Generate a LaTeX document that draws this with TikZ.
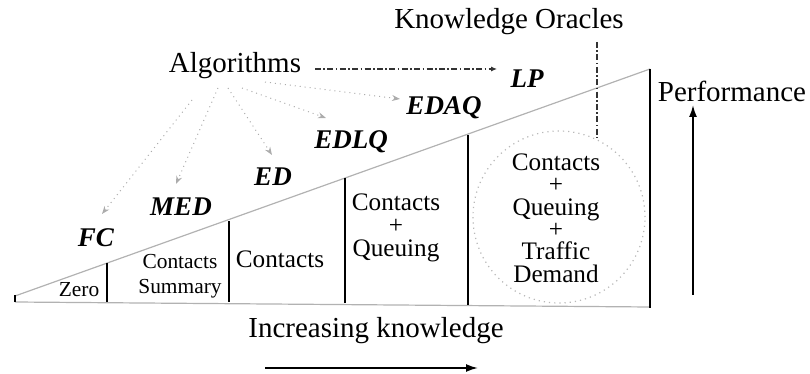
\documentclass[tikz,border=0pt]{standalone}
\usepackage{fontspec}
\setmainfont{Liberation Serif}
\usetikzlibrary{arrows.meta}
\begin{document}
\begin{tikzpicture}[x=0.5pt,y=-0.5pt,
  big/.style={font=\fontsize{14.5}{17}\selectfont, inner sep=0pt},
  alg/.style={font=\fontsize{13.5}{16}\selectfont\bfseries\itshape, inner sep=0pt},
  boxtxt/.style={font=\fontsize{12.6}{11.5}\selectfont, inner sep=0pt, align=center},
  smalltxt/.style={font=\fontsize{10.7}{12.5}\selectfont, inner sep=0pt, align=center},
  wall/.style={line width=0.8pt, black},
  slope/.style={gray!60, line width=0.6pt},
  pointer/.style={gray!65, dotted, line width=0.5pt, -{Stealth[length=4pt,width=3pt]}},
  dashdot/.style={line width=0.6pt, black!80, dash pattern=on 3pt off 1.2pt on 0.8pt off 1.2pt},
  bigarrow/.style={line width=0.9pt, -{Latex[length=6pt,width=4pt]}}
]
\useasboundingbox (0,0) rectangle (810,374);

% staircase
\draw[slope] (15,296) -- (650,69);
\draw[slope] (15,302) -- (650,307);
\draw[wall] (15,295) -- (15,302);
\draw[wall] (107,263) -- (107,302);
\draw[wall] (229,221) -- (229,302);
\draw[wall] (345,178) -- (345,303);
\draw[wall] (468,135) -- (468,305);
\draw[wall] (650,69) -- (650,308);

% box contents
\node[smalltxt] (zero) at (79,290) {Zero};
\node[smalltxt] (cs) at (180,276) {Contacts\\Summary};
\node[boxtxt] (c) at (280,259) {Contacts};
\node[boxtxt] (cq) at (396,228) {Contacts\\+\\Queuing};
\node[circle, draw=gray!55, dotted, line width=0.6pt, minimum size=86pt, inner sep=0pt] (oracle) at (559,217) {};
\node[boxtxt, font=\fontsize{12.6}{11.2}\selectfont] (cqt) at (556,218) {Contacts\\+\\Queuing\\+\\Traffic\\Demand};

% algorithm labels
\node[alg] (FC) at (96,238) {FC};
\node[alg] (MED) at (181,207) {MED};
\node[alg] (ED) at (273,177) {ED};
\node[alg] (EDLQ) at (351,142) {EDLQ};
\node[alg] (EDAQ) at (444,108) {EDAQ};
\node[alg] (LP) at (527,79) {LP};

\node[big] (alg) at (235,66) {Algorithms};
\node[big] (ko) at (509,22) {Knowledge Oracles};
\node[big] (perf) at (732,91) {Performance};
\node[big] (inc) at (376,331) {Increasing knowledge};

% pointers from Algorithms to the algorithm labels
\coordinate (s1) at (192,100); \coordinate (e1) at (102,214);
\coordinate (s2) at (218,88);  \coordinate (e2) at (176,184);
\coordinate (s3) at (228,88);  \coordinate (e3) at (272,155);
\coordinate (s4) at (242,88);  \coordinate (e4) at (326,118);
\coordinate (s5) at (265,82);  \coordinate (e5) at (400,99);
\draw[pointer] (s1) -- (e1);
\draw[pointer] (s2) -- (e2);
\draw[pointer] (s3) -- (e3);
\draw[pointer] (s4) -- (e4);
\draw[pointer] (s5) -- (e5);

% dash-dot connectors
\coordinate (h1) at (315,69);
\draw[dashdot, shorten >=6.5pt, -{Latex[length=3pt,width=2.5pt,open]}] (h1) -- (h1 -| LP.west);
\coordinate (kot) at (597,42);
\draw[dashdot, shorten >=-4pt] (kot) -- (kot |- oracle.north);

% big arrows
\coordinate (pa1) at (693,295); \coordinate (pa2) at (693,105);
\draw[bigarrow] (pa1) -- (pa2);
\coordinate (ia1) at (265,368); \coordinate (ia2) at (478,368);
\draw[bigarrow] (ia1) -- (ia2);
\end{tikzpicture}
\end{document}
